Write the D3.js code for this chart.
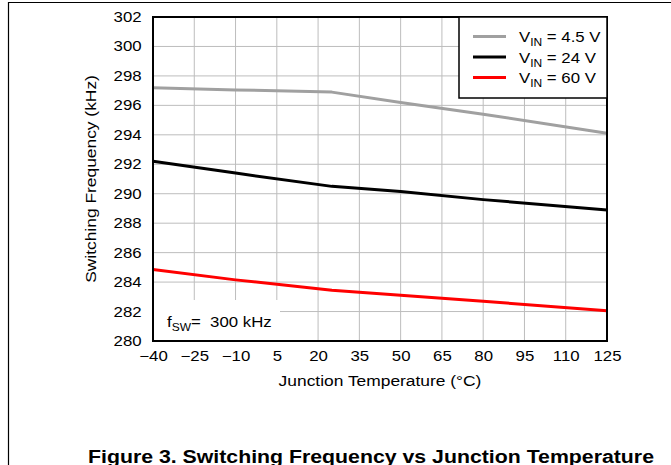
<!DOCTYPE html>
<html>
<head>
<meta charset="utf-8">
<script src="https://cdn.jsdelivr.net/npm/d3@7"></script>
<style>
  body { margin: 0; background: #fff; }
  svg { font-family: "Liberation Sans", Arial, sans-serif; }
</style>
</head>
<body>
<div id="chart"></div>
<script>
// data
const temps = [-40, -10, 25, 50, 80, 125];
const vin45 = [297.2, 297.05, 296.9, 296.2, 295.4, 294.1];
const vin24 = [292.2, 291.4, 290.5, 290.15, 289.6, 288.9];
const vin60 = [284.85, 284.15, 283.45, 283.1, 282.7, 282.05];
const seriesNames = ['4.5 V', '24 V', '60 V'];
const seriesColors = ['#a0a0a0', '#000000', '#ff0000'];
const xTicks = [-40, -25, -10, 5, 20, 35, 50, 65, 80, 95, 110, 125];
const yTicks = [280, 282, 284, 286, 288, 290, 292, 294, 296, 298, 300, 302];

const W = 671, H = 465;
const margin = {left: 153, right: 64, top: 17, bottom: 124};
const stretch = 1.2; // the source text is a bit wider than plain Arial

const svg = d3.select('#chart').append('svg')
  .attr('width', W).attr('height', H);

// page frame (top and left rules)
svg.append('line').attr('x1', 8).attr('x2', 671).attr('y1', 2.5).attr('y2', 2.5)
  .attr('stroke', '#000').attr('stroke-width', 1.2);
svg.append('line').attr('x1', 8.5).attr('x2', 8.5).attr('y1', 2).attr('y2', H)
  .attr('stroke', '#000').attr('stroke-width', 1.2);

const x = d3.scaleLinear().domain([-40, 125]).range([margin.left, W - margin.right]);
const y = d3.scaleLinear().domain([280, 302]).range([H - margin.bottom, margin.top]);

// grid
const grid = svg.append('g');
grid.selectAll('.gx').data(xTicks.slice(1, -1)).join('line')
  .attr('x1', d => x(d)).attr('x2', d => x(d))
  .attr('y1', y(280)).attr('y2', y(302))
  .attr('stroke', '#bdbdbd').attr('stroke-width', 1);
grid.selectAll('.gy').data(yTicks.slice(1, -1)).join('line')
  .attr('x1', x(-40)).attr('x2', x(125))
  .attr('y1', d => y(d)).attr('y2', d => y(d))
  .attr('stroke', '#bdbdbd').attr('stroke-width', 1);

// annotation background
svg.append('rect').attr('x', x(-40)).attr('y', 300)
  .attr('width', 127).attr('height', y(280) - 300).attr('fill', '#fff');

// series
const series = [vin45, vin24, vin60];
const line = d3.line().x((d, i) => x(temps[i])).y(d => y(d));
series.forEach((s, k) => {
  svg.append('path').datum(s)
    .attr('d', line)
    .attr('fill', 'none')
    .attr('stroke', seriesColors[k])
    .attr('stroke-width', 3)
    .attr('stroke-linejoin', 'round');
});

// plot frame
svg.append('rect').attr('x', x(-40)).attr('y', y(302))
  .attr('width', x(125) - x(-40)).attr('height', y(280) - y(302))
  .attr('fill', 'none').attr('stroke', '#000').attr('stroke-width', 2);

// axes
const xAxis = svg.append('g').attr('transform', `translate(0,${y(280)})`)
  .call(d3.axisBottom(x).tickValues(xTicks).tickSize(0).tickPadding(10)
    .tickFormat(d => d < 0 ? '\u2212' + Math.abs(d) : d));
const yAxis = svg.append('g').attr('transform', `translate(${x(-40)},0)`)
  .call(d3.axisLeft(y).tickValues(yTicks).tickSize(0).tickPadding(9.5));
[xAxis, yAxis].forEach(a => {
  a.select('.domain').remove();
  a.selectAll('text').attr('font-size', 14).attr('fill', '#000')
    .attr('font-family', '"Liberation Sans", Arial, sans-serif')
    .attr('transform', `scale(${stretch},1)`);
});

// text placed at (tx, ty), widened horizontally
const label = (tx, ty, size, rot) => svg.append('text')
  .attr('transform', `translate(${tx},${ty})` + (rot ? ` rotate(${rot})` : '') + ` scale(${stretch},1)`)
  .attr('font-size', size);

// axis titles
label((x(-40) + x(125)) / 2, 386, 14.5).attr('text-anchor', 'middle')
  .text('Junction Temperature (°C)');
label(96, (y(280) + y(302)) / 2, 14.5, -90).attr('text-anchor', 'middle')
  .text('Switching Frequency (kHz)');

// annotation
const ann = label(167, 327, 14).attr('xml:space', 'preserve');
ann.append('tspan').text('f');
ann.append('tspan').attr('font-size', 10).attr('dy', 4).text('SW');
ann.append('tspan').attr('dy', -4).text('=  300 kHz');

// legend
const lg = svg.append('g');
lg.append('rect').attr('x', 459).attr('y', y(302)).attr('width', x(125) - 459).attr('height', 81)
  .attr('fill', '#fff').attr('stroke', '#000').attr('stroke-width', 1.5);
seriesNames.forEach((n, k) => {
  const yy = 36.5 + k * 20.5;
  lg.append('line').attr('x1', 473).attr('x2', 506).attr('y1', yy).attr('y2', yy)
    .attr('stroke', seriesColors[k]).attr('stroke-width', 3);
  const t = label(519, yy + 5.5, 14);
  t.append('tspan').text('V');
  t.append('tspan').attr('font-size', 10).attr('dy', 4).text('IN');
  t.append('tspan').attr('dy', -4).text(' = ' + n);
});

// caption
svg.append('text').attr('x', 371).attr('y', 463)
  .attr('text-anchor', 'middle').attr('font-size', 18).attr('font-weight', 'bold')
  .attr('textLength', 566).attr('lengthAdjust', 'spacingAndGlyphs')
  .text('Figure 3. Switching Frequency vs Junction Temperature');
</script>
</body>
</html>
